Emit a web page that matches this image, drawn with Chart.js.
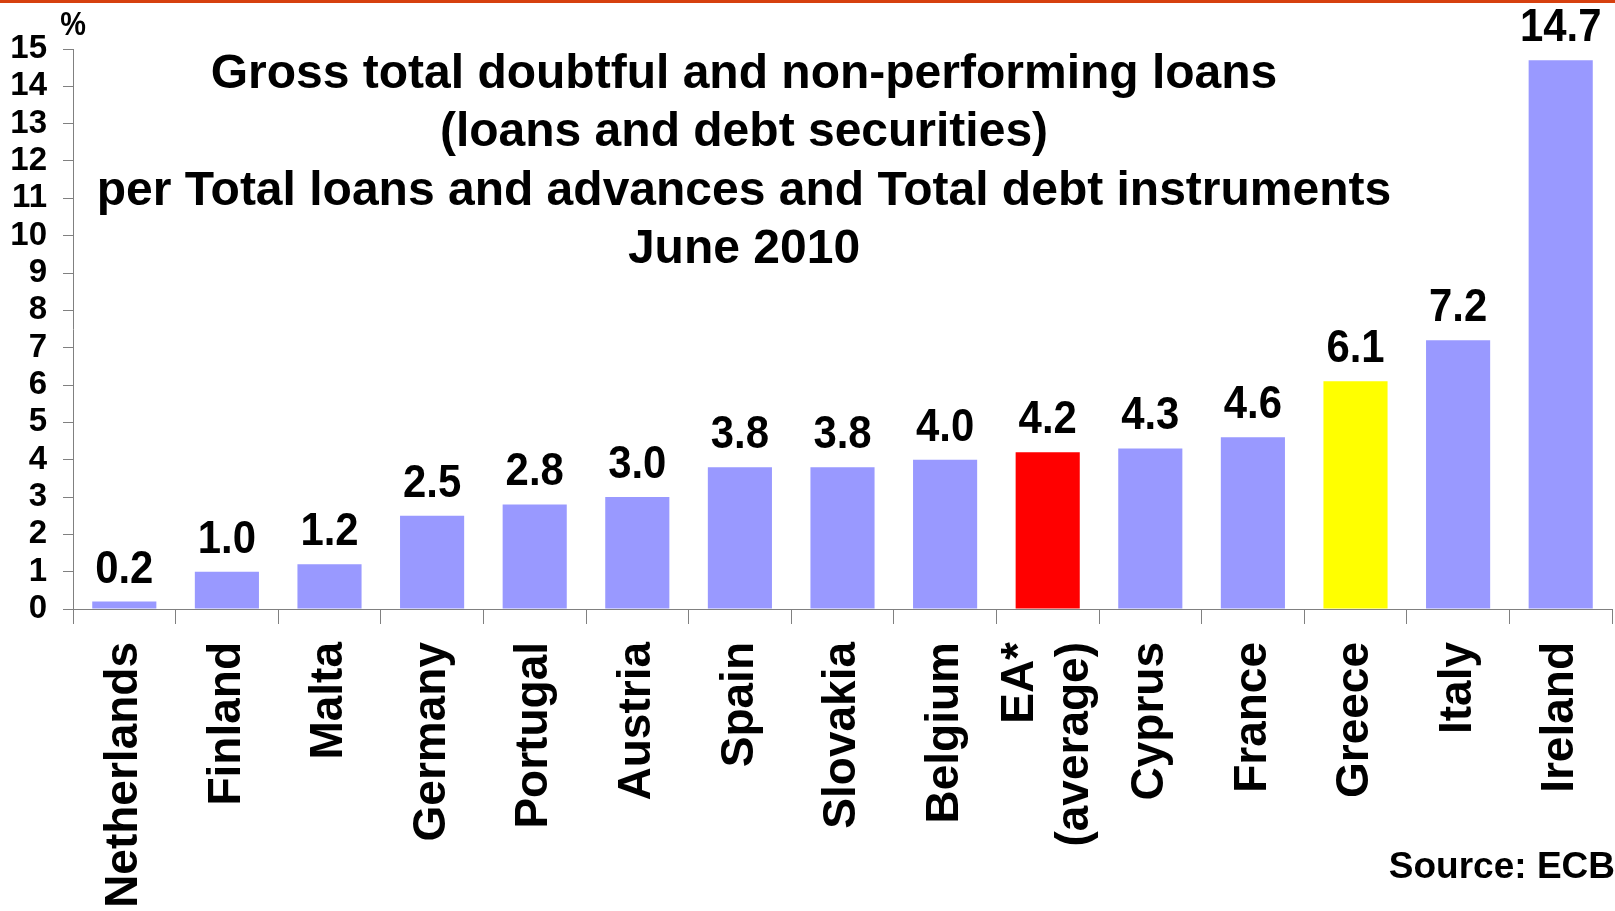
<!DOCTYPE html>
<html><head><meta charset="utf-8">
<script src="https://cdn.jsdelivr.net/npm/chart.js@4.4.0/dist/chart.umd.min.js"></script>
<style>html,body{margin:0;padding:0;background:#fff;overflow:hidden}#wrap{position:relative;width:1615px;height:911px}</style>
</head><body><div id="wrap"><canvas id="c" width="1615" height="911"></canvas></div>
<script>
// ---- data ----
const categories = ['Netherlands','Finland','Malta','Germany','Portugal','Austria','Spain','Slovakia','Belgium',['EA*','(average)'],'Cyprus','France','Greece','Italy','Ireland'];
const values = [0.2,1.0,1.2,2.5,2.8,3.0,3.8,3.8,4.0,4.2,4.3,4.6,6.1,7.2,14.7];
const yMin = 0, yMax = 15, yStep = 1;
const titleLines = ['Gross total doubtful and non-performing loans','(loans and debt securities)','per Total loans and advances and Total debt instruments','June 2010'];
const unitLabel = '%';
const sourceText = 'Source: ECB';

// ---- styles ----
const BASE = '#9999FF', EA_COLOR = '#FF0000', GREECE_COLOR = '#FFFF00';
const barColors = categories.map(c => {
  const name = Array.isArray(c) ? c[0] : c;
  if (name === 'EA*') return EA_COLOR;
  if (name === 'Greece') return GREECE_COLOR;
  return BASE;
});
const FAM = "'Liberation Sans', Arial, Helvetica, sans-serif";
const X_FONT_SIZE = 46, X_LINE_HEIGHT = 1.2;

function drawText(ctx, text, x, y, size, sx, align) {
  ctx.save();
  ctx.font = 'bold ' + size + 'px ' + FAM;
  ctx.fillStyle = '#000';
  ctx.textBaseline = 'alphabetic';
  ctx.textAlign = align || 'center';
  ctx.translate(x, y);
  ctx.scale(sx, 1);
  ctx.fillText(text, 0, 0);
  ctx.restore();
}

const overlay = {
  id: 'overlay',
  beforeDraw(chart) {
    // center multi-line category labels on their tick
    const xs = chart.scales.x;
    const items = xs.getLabelItems();
    items.forEach(it => {
      const n = Array.isArray(it.label) ? it.label.length : 1;
      if (n > 1 && !it._centered) {
        it.options.translation[0] -= (n - 1) * X_FONT_SIZE * X_LINE_HEIGHT / 2;
        it._centered = true;
      }
    });
  },
  afterDatasetsDraw(chart) {
    const ctx = chart.ctx;
    const meta = chart.getDatasetMeta(0);
    meta.data.forEach((bar, i) => {
      drawText(ctx, values[i].toFixed(1), bar.x, bar.y - 19, 46, 0.91, 'center');
    });
  },
  afterDraw(chart) {
    const ctx = chart.ctx;
    ctx.save();
    ctx.fillStyle = '#D6400F';
    ctx.fillRect(0, 0, chart.width, 3);
    ctx.restore();
    const baselines = [88, 146, 205, 263];
    titleLines.forEach((t, i) => drawText(ctx, t, 744, baselines[i], 48, 1.0, 'center'));
    drawText(ctx, unitLabel, 73, 35, 34, 0.85, 'center');
    drawText(ctx, sourceText, 1615, 878, 37, 1.0, 'right');
  }
};

new Chart(document.getElementById('c'), {
  type: 'bar',
  data: {
    labels: categories,
    datasets: [{
      data: values,
      backgroundColor: barColors,
      borderWidth: 0,
      barPercentage: 0.625,
      categoryPercentage: 1.0
    }]
  },
  options: {
    responsive: false,
    animation: false,
    devicePixelRatio: 1,
    layout: { padding: { top: 49, right: 3, left: 0, bottom: 0 } },
    plugins: { legend: { display: false }, tooltip: { enabled: false }, title: { display: false } },
    scales: {
      x: {
        grid: { display: true, drawOnChartArea: false, drawTicks: true, tickLength: 15, color: '#808080', offset: true },
        border: { display: true, color: '#808080', width: 1 },
        ticks: {
          font: { family: FAM, weight: 'bold', size: X_FONT_SIZE, lineHeight: X_LINE_HEIGHT },
          color: '#000', maxRotation: 90, minRotation: 90, autoSkip: false, padding: 18
        },
        afterFit: s => { s.height = 302; s.paddingLeft = 0; s.paddingRight = 0; }
      },
      y: {
        min: yMin, max: yMax,
        grid: { display: true, drawOnChartArea: false, drawTicks: true, tickLength: 10, color: '#808080' },
        border: { display: true, color: '#808080', width: 1 },
        ticks: {
          stepSize: yStep, autoSkip: false,
          font: { family: FAM, weight: 'bold', size: 33 },
          color: '#000', padding: 16
        },
        afterFit: s => { s.width = 73; s.paddingTop = 0; s.paddingBottom = 0; }
      }
    }
  },
  plugins: [overlay]
});
</script>
</body></html>
